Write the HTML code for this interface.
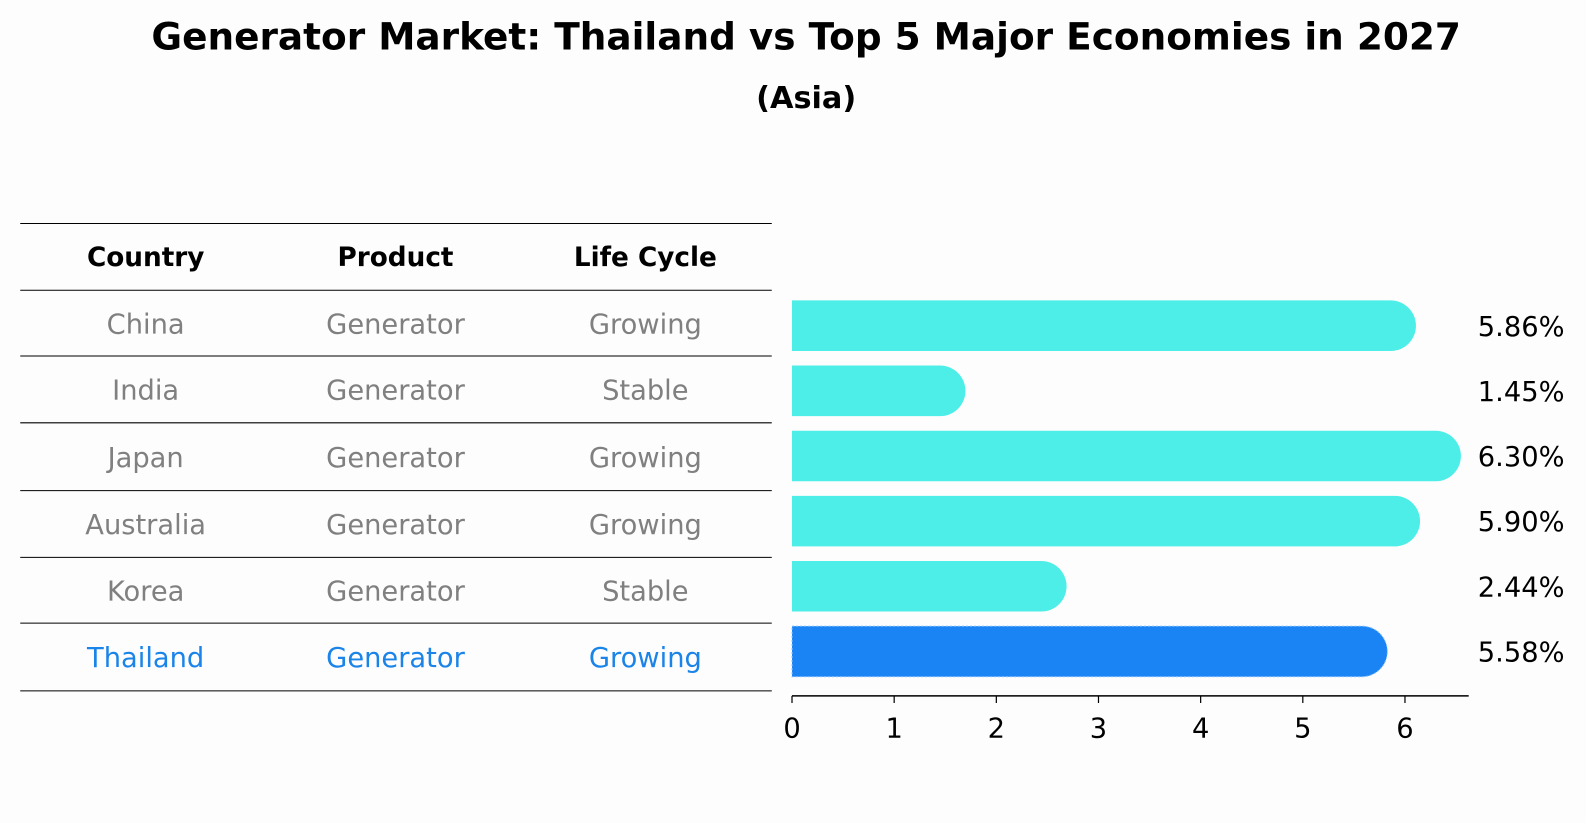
<!DOCTYPE html>
<html><head><meta charset="utf-8"><style>
body{margin:0;background:#fdfdfd;font-family:"Liberation Sans","DejaVu Sans",sans-serif;}
svg{display:block}
</style></head><body>
<svg id="c" width="1586" height="823" font-family="DejaVu Sans, Liberation Sans, sans-serif">
<rect width="1586" height="823" fill="#fdfdfd"/>
<g transform="scale(1.0115)">
<text x="797" y="49" text-anchor="middle" font-size="37" font-weight="bold">Generator Market: Thailand vs Top 5 Major Economies in 2027</text>
<text x="797" y="107" text-anchor="middle" font-size="30" font-weight="bold">(Asia)</text>
<g id="tbl"></g>
<g id="bars"></g>
</g>
</svg>
<script>
const countries=["China","India","Japan","Australia","Korea","Thailand"];
const products=["Generator","Generator","Generator","Generator","Generator","Generator"];
const lifecycle=["Growing","Stable","Growing","Growing","Stable","Growing"];
const values=[5.86,1.45,6.30,5.90,2.44,5.58];
const valueLabels=["5.86%","1.45%","6.30%","5.90%","2.44%","5.58%"];
const ticks=[0,1,2,3,4,5,6];
const NS="http://www.w3.org/2000/svg";
function mk(t,a,p){const e=document.createElementNS(NS,t);for(const k in a)e.setAttribute(k,a[k]);p.appendChild(e);return e;}
const tbl=document.getElementById('tbl'), bars=document.getElementById('bars');
const lines=[221,287,352,418,485,551,616,683];
const colX=[144,391,638];
lines.forEach((y,i)=>{const l=mk('line',{x1:20,x2:763,y1:y,y2:y,stroke:'#000','stroke-width':1},tbl);

});
["Country","Product","Life Cycle"].forEach((h,i)=>{const t=mk('text',{x:colX[i],y:263,'text-anchor':'middle','font-size':26,'font-weight':'bold'},tbl);t.textContent=h;

});
const x=v=>783+v*101;
const rowY=i=>322+i*64.4;
countries.forEach((c,i)=>{
 const hl=c==="Thailand";const col=hl?'#1a84e8':'#808080';
 [c,products[i],lifecycle[i]].forEach((s,j)=>{const t=mk('text',{x:colX[j],y:(lines[i+1]+lines[i+2])/2+10,'text-anchor':'middle','font-size':27,fill:col},tbl);t.textContent=s;
 
 });
 const y=rowY(i),h=50,r=25;
 const x0=x(0),x1=x(values[i]);
 const p=mk('path',{d:`M${x0} ${y-h/2} L${x1} ${y-h/2} A${r} ${r} 0 0 1 ${x1} ${y+h/2} L${x0} ${y+h/2} Z`,fill:hl?'#1a84f5':'#4deee8'},bars);
 if(hl){p.setAttribute('stroke','#8fc4ff');p.setAttribute('stroke-dasharray','2 2');p.setAttribute('stroke-width','1');}
 
 
 const t=mk('text',{x:1461,y:y+10,'font-size':27},bars);t.textContent=valueLabels[i];
 
 
});
const ax=mk('line',{x1:783,x2:1452,y1:688,y2:688,stroke:'#000','stroke-width':1.5},bars);


ticks.forEach(v=>{const l=mk('line',{x1:x(v),x2:x(v),y1:688,y2:695,stroke:'#000','stroke-width':1.2},bars);


const t=mk('text',{x:x(v),y:729,'text-anchor':'middle','font-size':27},bars);t.textContent=v;

});
</script>
</body></html>
